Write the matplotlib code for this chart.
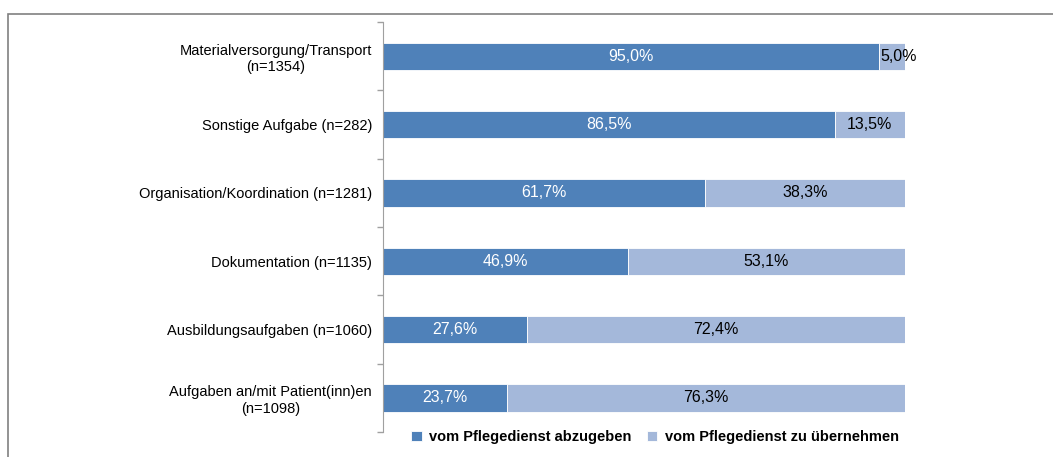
import matplotlib.pyplot as plt
import numpy as np
from matplotlib.patches import Rectangle

plt.rcParams["font.family"] = ["Liberation Sans", "DejaVu Sans"]

categories = [
    "Materialversorgung/Transport\n(n=1354)",
    "Sonstige Aufgabe (n=282)",
    "Organisation/Koordination (n=1281)",
    "Dokumentation (n=1135)",
    "Ausbildungsaufgaben (n=1060)",
    "Aufgaben an/mit Patient(inn)en\n(n=1098)",
]
abzugeben = [95.0, 86.5, 61.7, 46.9, 27.6, 23.7]
uebernehmen = [5.0, 13.5, 38.3, 53.1, 72.4, 76.3]
series_names = ["vom Pflegedienst abzugeben", "vom Pflegedienst zu übernehmen"]

dark = "#4f81b9"
light = "#a4b8da"

fig = plt.figure(figsize=(10.53, 4.57), dpi=100)
# grey frame around the chart area (cropped at right and bottom)
fig.patches.append(Rectangle((8 / 1053, -0.1), 1.2, (457 - 14) / 457 + 0.1,
                             transform=fig.transFigure, fill=False,
                             edgecolor="#808080", linewidth=1.2))

ax = fig.add_axes([383 / 1053, 25 / 457, 522 / 1053, 410 / 457])

y = np.arange(len(categories))
h = 0.4
b1 = ax.barh(y, abzugeben, height=h, color=dark, edgecolor="white", linewidth=0.6)
b2 = ax.barh(y, uebernehmen, left=abzugeben, height=h, color=light,
             edgecolor="white", linewidth=0.6)

for i in range(len(categories)):
    ax.text(abzugeben[i] / 2, y[i], f"{abzugeben[i]:.1f}%".replace(".", ","),
            ha="center", va="center", color="white", fontsize=11.5)
    # the small 5,0% label sits just right of the dark segment
    xr = abzugeben[i] + uebernehmen[i] / 2
    ha = "center"
    if uebernehmen[i] < 8:
        xr, ha = abzugeben[i] + 0.3, "left"
    ax.text(xr, y[i], f"{uebernehmen[i]:.1f}%".replace(".", ","),
            ha=ha, va="center", color="black", fontsize=11.5)

ax.set_xlim(0, 100)
ax.set_ylim(len(categories) - 0.5, -0.5)
ax.set_xticks([])

ax.set_yticks(y)
ax.set_yticklabels(categories, fontsize=10.5, multialignment="center")
ax.tick_params(axis="y", which="major", length=0, pad=8)
ax.set_yticks(np.arange(-0.5, len(categories)), minor=True)
ax.tick_params(axis="y", which="minor", length=4, color="#a0a0a0", width=1)

for s in ["top", "right", "bottom"]:
    ax.spines[s].set_visible(False)
ax.spines["left"].set_color("#a0a0a0")

fig.legend([b1, b2], series_names, loc="center", bbox_to_anchor=(655 / 1053, 1 - 437 / 457),
           ncol=2, frameon=False, handlelength=0.7, handleheight=0.7,
           handletextpad=0.5, columnspacing=1.1,
           prop={"weight": "bold", "size": 10.5})

fig.savefig("out.png", dpi=100)
